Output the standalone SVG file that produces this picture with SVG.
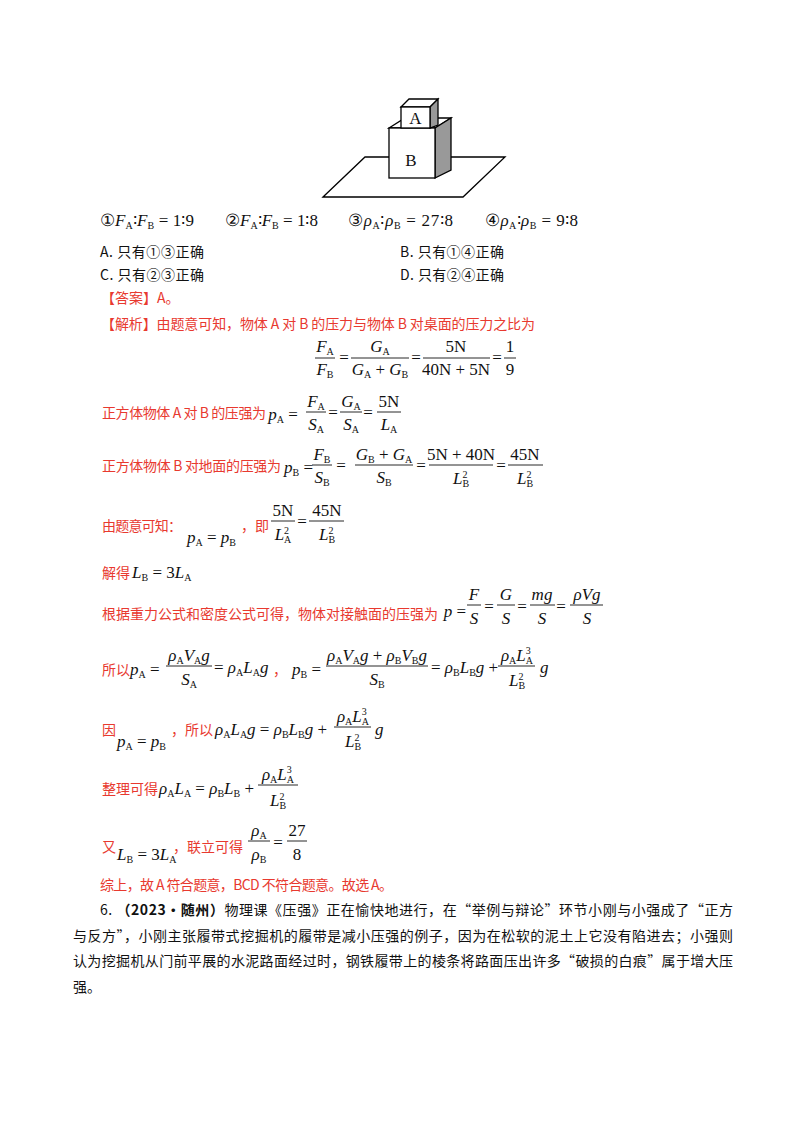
<svg xmlns="http://www.w3.org/2000/svg" width="800" height="1132" viewBox="0 0 800 1132">
<style>
.cn{font-family:"Noto Sans CJK SC","Noto Sans CJK JP",sans-serif;font-size:14px;fill:#111}
.r{fill:#e8392f}
.m{font-family:"Liberation Serif",serif;font-size:17px;fill:#111}
.i{font-style:italic}
.s{font-size:10px;font-style:normal}
.bar{stroke:#111;stroke-width:0.9}
.fig{fill:#fff;stroke:#000;stroke-width:1.3}
</style>
<rect width="800" height="1132" fill="#fff"/>
<g id="figure">
<polygon class="fig" points="323,197 365,157 505,157 463,197"/>
<polygon class="fig" points="389,128 405,118 451,118 435,128"/>
<polygon points="435,128 451,118 451,170 435,178" fill="#999" stroke="#000" stroke-width="1.3"/>
<rect class="fig" x="389" y="128" width="46" height="50"/>
<polygon class="fig" points="401,107 409,99 438,99 430,107"/>
<polygon points="430,107 438,99 438,125 430,128" fill="#999" stroke="#000" stroke-width="1.3"/>
<rect class="fig" x="401" y="107" width="29" height="21"/>
<text x="415.5" y="124" class="m" font-size="15" text-anchor="middle">A</text>
<text x="411" y="166" class="m" font-size="15" text-anchor="middle">B</text>
</g>
<g id="options">
<text x="100" y="226" class="m" textLength="94" lengthAdjust="spacing">①<tspan class="i">F</tspan><tspan class="s" dy="3">A</tspan><tspan dy="-3">∶</tspan><tspan class="i">F</tspan><tspan class="s" dy="3">B</tspan><tspan dy="-3"> = 1∶9</tspan></text>
<text x="225" y="226" class="m" textLength="93" lengthAdjust="spacing">②<tspan class="i">F</tspan><tspan class="s" dy="3">A</tspan><tspan dy="-3">∶</tspan><tspan class="i">F</tspan><tspan class="s" dy="3">B</tspan><tspan dy="-3"> = 1∶8</tspan></text>
<text x="348" y="226" class="m" textLength="105" lengthAdjust="spacing">③<tspan class="i">ρ</tspan><tspan class="s" dy="3">A</tspan><tspan dy="-3">∶</tspan><tspan class="i">ρ</tspan><tspan class="s" dy="3">B</tspan><tspan dy="-3"> = 27∶8</tspan></text>
<text x="485" y="226" class="m" textLength="93" lengthAdjust="spacing">④<tspan class="i">ρ</tspan><tspan class="s" dy="3">A</tspan><tspan dy="-3">∶</tspan><tspan class="i">ρ</tspan><tspan class="s" dy="3">B</tspan><tspan dy="-3"> = 9∶8</tspan></text>
<text x="100" y="257" class="cn" textLength="104" lengthAdjust="spacing">A.  只有①③正确</text>
<text x="400" y="257" class="cn" textLength="104" lengthAdjust="spacing">B.  只有①④正确</text>
<text x="100" y="280" class="cn" textLength="104" lengthAdjust="spacing">C.  只有②③正确</text>
<text x="400" y="280" class="cn" textLength="104" lengthAdjust="spacing">D.  只有②④正确</text>
</g>
<g id="solution">
<text x="101" y="303" class="cn r">【答案】A。</text>
<text x="101" y="329" class="cn r" textLength="434" lengthAdjust="spacing">【解析】由题意可知，物体 A 对 B 的压力与物体 B 对桌面的压力之比为</text>
<g class="m" text-anchor="middle">
<text x="325" y="352"><tspan class="i">F</tspan><tspan class="s" dy="3">A</tspan></text>
<text x="325" y="375"><tspan class="i">F</tspan><tspan class="s" dy="3">B</tspan></text>
<text x="344" y="363">=</text>
<text x="380" y="352"><tspan class="i">G</tspan><tspan class="s" dy="3">A</tspan></text>
<text x="380" y="375"><tspan class="i">G</tspan><tspan class="s" dy="3">A</tspan><tspan dy="-3"> + </tspan><tspan class="i">G</tspan><tspan class="s" dy="3">B</tspan></text>
<text x="416" y="363">=</text>
<text x="456" y="352">5N</text>
<text x="456" y="375">40N + 5N</text>
<text x="497" y="363">=</text>
<text x="510" y="352">1</text>
<text x="510" y="375">9</text>
</g>
<line class="bar" x1="315" y1="358" x2="335" y2="358"/>
<line class="bar" x1="351" y1="358" x2="409" y2="358"/>
<line class="bar" x1="423" y1="358" x2="490" y2="358"/>
<line class="bar" x1="504" y1="358" x2="516" y2="358"/>
<text x="102" y="418" class="cn r" textLength="164" lengthAdjust="spacing">正方体物体 A 对 B 的压强为</text>
<g class="m" text-anchor="middle">
<text x="283" y="420"><tspan class="i">p</tspan><tspan class="s" dy="3">A</tspan><tspan dy="-3"> =</tspan></text>
<text x="316" y="407"><tspan class="i">F</tspan><tspan class="s" dy="3">A</tspan></text>
<text x="316" y="430"><tspan class="i">S</tspan><tspan class="s" dy="3">A</tspan></text>
<text x="333" y="418">=</text>
<text x="351" y="407"><tspan class="i">G</tspan><tspan class="s" dy="3">A</tspan></text>
<text x="351" y="430"><tspan class="i">S</tspan><tspan class="s" dy="3">A</tspan></text>
<text x="368" y="418">=</text>
<text x="389" y="407">5N</text>
<text x="389" y="430"><tspan class="i">L</tspan><tspan class="s" dy="3">A</tspan></text>
</g>
<line class="bar" x1="306" y1="412" x2="326" y2="412"/>
<line class="bar" x1="340" y1="412" x2="362" y2="412"/>
<line class="bar" x1="377" y1="412" x2="401" y2="412"/>
<text x="102" y="471" class="cn r" textLength="179" lengthAdjust="spacing">正方体物体 B 对地面的压强为</text>
<g class="m" text-anchor="middle">
<text x="284" y="473" text-anchor="start"><tspan class="i">p</tspan><tspan class="s" dy="3">B</tspan><tspan dy="-3"> =</tspan></text>
<text x="322" y="460"><tspan class="i">F</tspan><tspan class="s" dy="3">B</tspan></text>
<text x="322" y="483"><tspan class="i">S</tspan><tspan class="s" dy="3">B</tspan></text>
<text x="341" y="471">=</text>
<text x="384" y="460"><tspan class="i">G</tspan><tspan class="s" dy="3">B</tspan><tspan dy="-3"> + </tspan><tspan class="i">G</tspan><tspan class="s" dy="3">A</tspan></text>
<text x="384" y="483"><tspan class="i">S</tspan><tspan class="s" dy="3">B</tspan></text>
<text x="421" y="471">=</text>
<text x="461" y="460">5N + 40N</text>
<text x="461" y="484"><tspan class="i">L</tspan><tspan class="s" dy="-6">2</tspan><tspan class="s" dx="-5" dy="9">B</tspan></text>
<text x="501" y="471">=</text>
<text x="525" y="460">45N</text>
<text x="525" y="484"><tspan class="i">L</tspan><tspan class="s" dy="-6">2</tspan><tspan class="s" dx="-5" dy="9">B</tspan></text>
</g>
<line class="bar" x1="312" y1="465" x2="332" y2="465"/>
<line class="bar" x1="355" y1="465" x2="413" y2="465"/>
<line class="bar" x1="429" y1="465" x2="493" y2="465"/>
<line class="bar" x1="508" y1="465" x2="543" y2="465"/>
<text x="102" y="531" class="cn r" textLength="80" lengthAdjust="spacing">由题意可知：</text>
<text x="187" y="543" class="m"><tspan class="i">p</tspan><tspan class="s" dy="3">A</tspan><tspan dy="-3"> = </tspan><tspan class="i">p</tspan><tspan class="s" dy="3">B</tspan></text>
<text x="241" y="531" class="cn r">，即</text>
<g class="m" text-anchor="middle">
<text x="283" y="516">5N</text>
<text x="283" y="540"><tspan class="i">L</tspan><tspan class="s" dy="-6">2</tspan><tspan class="s" dx="-5" dy="9">A</tspan></text>
<text x="302" y="527">=</text>
<text x="327" y="516">45N</text>
<text x="327" y="540"><tspan class="i">L</tspan><tspan class="s" dy="-6">2</tspan><tspan class="s" dx="-5" dy="9">B</tspan></text>
</g>
<line class="bar" x1="271" y1="521" x2="295" y2="521"/>
<line class="bar" x1="309" y1="521" x2="344" y2="521"/>
<text x="102" y="578" class="cn r">解得</text>
<text x="132" y="578" class="m"><tspan class="i">L</tspan><tspan class="s" dy="3">B</tspan><tspan dy="-3"> = 3</tspan><tspan class="i">L</tspan><tspan class="s" dy="3">A</tspan></text>
<text x="102" y="619" class="cn r" textLength="336" lengthAdjust="spacing">根据重力公式和密度公式可得，物体对接触面的压强为</text>
<g class="m" text-anchor="middle">
<text x="455" y="617"><tspan class="i">p</tspan> =</text>
<text x="474" y="600" class="i">F</text>
<text x="474" y="624" class="i">S</text>
<text x="489" y="612">=</text>
<text x="506" y="600" class="i">G</text>
<text x="506" y="624" class="i">S</text>
<text x="522" y="612">=</text>
<text x="542" y="600" class="i">mg</text>
<text x="542" y="624" class="i">S</text>
<text x="561" y="612">=</text>
<text x="587" y="600" class="i">ρVg</text>
<text x="587" y="624" class="i">S</text>
</g>
<line class="bar" x1="467" y1="605" x2="481" y2="605"/>
<line class="bar" x1="497" y1="605" x2="515" y2="605"/>
<line class="bar" x1="530" y1="605" x2="555" y2="605"/>
<line class="bar" x1="570" y1="605" x2="603" y2="605"/>
<text x="102" y="675" class="cn r">所以</text>
<g class="m">
<text x="130" y="675"><tspan class="i">p</tspan><tspan class="s" dy="3">A</tspan><tspan dy="-3"> =</tspan></text>
<text x="189" y="661" text-anchor="middle"><tspan class="i">ρ</tspan><tspan class="s" dy="3">A</tspan><tspan class="i" dy="-3">V</tspan><tspan class="s" dy="3">A</tspan><tspan class="i" dy="-3">g</tspan></text>
<text x="189" y="685" text-anchor="middle"><tspan class="i">S</tspan><tspan class="s" dy="3">A</tspan></text>
<text x="214" y="673">= <tspan class="i">ρ</tspan><tspan class="s" dy="3">A</tspan><tspan class="i" dy="-3">L</tspan><tspan class="s" dy="3">A</tspan><tspan class="i" dy="-3">g</tspan></text>
<text x="292" y="675"><tspan class="i">p</tspan><tspan class="s" dy="3">B</tspan><tspan dy="-3"> =</tspan></text>
<text x="377" y="661" text-anchor="middle"><tspan class="i">ρ</tspan><tspan class="s" dy="3">A</tspan><tspan class="i" dy="-3">V</tspan><tspan class="s" dy="3">A</tspan><tspan class="i" dy="-3">g</tspan> + <tspan class="i">ρ</tspan><tspan class="s" dy="3">B</tspan><tspan class="i" dy="-3">V</tspan><tspan class="s" dy="3">B</tspan><tspan class="i" dy="-3">g</tspan></text>
<text x="377" y="685" text-anchor="middle"><tspan class="i">S</tspan><tspan class="s" dy="3">B</tspan></text>
<text x="431" y="673">= <tspan class="i">ρ</tspan><tspan class="s" dy="3">B</tspan><tspan class="i" dy="-3">L</tspan><tspan class="s" dy="3">B</tspan><tspan class="i" dy="-3">g</tspan> +</text>
<text x="517" y="661" text-anchor="middle"><tspan class="i">ρ</tspan><tspan class="s" dy="3">A</tspan><tspan class="i" dy="-3">L</tspan><tspan class="s" dy="-7">3</tspan><tspan class="s" dx="-5" dy="10">A</tspan></text>
<text x="517" y="686" text-anchor="middle"><tspan class="i">L</tspan><tspan class="s" dy="-6">2</tspan><tspan class="s" dx="-5" dy="9">B</tspan></text>
<text x="540" y="673" class="i">g</text>
</g>
<text x="273" y="675" class="cn r">，</text>
<line class="bar" x1="166" y1="666" x2="212" y2="666"/>
<line class="bar" x1="326" y1="666" x2="428" y2="666"/>
<line class="bar" x1="498" y1="666" x2="535" y2="666"/>
<text x="102" y="735" class="cn r">因</text>
<text x="117" y="747" class="m"><tspan class="i">p</tspan><tspan class="s" dy="3">A</tspan><tspan dy="-3"> = </tspan><tspan class="i">p</tspan><tspan class="s" dy="3">B</tspan></text>
<text x="171" y="735" class="cn r">，所以</text>
<g class="m">
<text x="215" y="735"><tspan class="i">ρ</tspan><tspan class="s" dy="3">A</tspan><tspan class="i" dy="-3">L</tspan><tspan class="s" dy="3">A</tspan><tspan class="i" dy="-3">g</tspan> = <tspan class="i">ρ</tspan><tspan class="s" dy="3">B</tspan><tspan class="i" dy="-3">L</tspan><tspan class="s" dy="3">B</tspan><tspan class="i" dy="-3">g</tspan> +</text>
<text x="353" y="722" text-anchor="middle"><tspan class="i">ρ</tspan><tspan class="s" dy="3">A</tspan><tspan class="i" dy="-3">L</tspan><tspan class="s" dy="-7">3</tspan><tspan class="s" dx="-5" dy="10">A</tspan></text>
<text x="353" y="747" text-anchor="middle"><tspan class="i">L</tspan><tspan class="s" dy="-6">2</tspan><tspan class="s" dx="-5" dy="9">B</tspan></text>
<text x="375" y="735" class="i">g</text>
</g>
<line class="bar" x1="334" y1="727" x2="371" y2="727"/>
<text x="102" y="794" class="cn r">整理可得</text>
<g class="m">
<text x="159" y="794"><tspan class="i">ρ</tspan><tspan class="s" dy="3">A</tspan><tspan class="i" dy="-3">L</tspan><tspan class="s" dy="3">A</tspan><tspan dy="-3"> = </tspan><tspan class="i">ρ</tspan><tspan class="s" dy="3">B</tspan><tspan class="i" dy="-3">L</tspan><tspan class="s" dy="3">B</tspan><tspan dy="-3"> +</tspan></text>
<text x="278" y="780" text-anchor="middle"><tspan class="i">ρ</tspan><tspan class="s" dy="3">A</tspan><tspan class="i" dy="-3">L</tspan><tspan class="s" dy="-7">3</tspan><tspan class="s" dx="-5" dy="10">A</tspan></text>
<text x="278" y="806" text-anchor="middle"><tspan class="i">L</tspan><tspan class="s" dy="-6">2</tspan><tspan class="s" dx="-5" dy="9">B</tspan></text>
</g>
<line class="bar" x1="258" y1="785" x2="298" y2="785"/>
<text x="102" y="852" class="cn r">又</text>
<text x="117" y="860" class="m"><tspan class="i">L</tspan><tspan class="s" dy="3">B</tspan><tspan dy="-3"> = 3</tspan><tspan class="i">L</tspan><tspan class="s" dy="3">A</tspan></text>
<text x="173" y="852" class="cn r">，联立可得</text>
<g class="m" text-anchor="middle">
<text x="259" y="836"><tspan class="i">ρ</tspan><tspan class="s" dy="3">A</tspan></text>
<text x="259" y="860"><tspan class="i">ρ</tspan><tspan class="s" dy="3">B</tspan></text>
<text x="278" y="848">=</text>
<text x="297" y="836">27</text>
<text x="297" y="860">8</text>
</g>
<line class="bar" x1="248" y1="841" x2="270" y2="841"/>
<line class="bar" x1="287" y1="841" x2="307" y2="841"/>
<text x="100" y="890" class="cn r" textLength="293" lengthAdjust="spacing">综上，故 A 符合题意，BCD 不符合题意。故选 A。</text>
</g>
<g id="question6">
<text x="100" y="915" class="cn" textLength="633" lengthAdjust="spacing">6.  <tspan font-weight="bold">（2023•随州）</tspan>物理课《压强》正在愉快地进行，在“举例与辩论”环节小刚与小强成了“正方</text>
<text x="73" y="941" class="cn" textLength="660" lengthAdjust="spacing">与反方”，小刚主张履带式挖掘机的履带是减小压强的例子，因为在松软的泥土上它没有陷进去；小强则</text>
<text x="73" y="966" class="cn" textLength="660" lengthAdjust="spacing">认为挖掘机从门前平展的水泥路面经过时，钢铁履带上的棱条将路面压出许多“破损的白痕”属于增大压</text>
<text x="73" y="992" class="cn">强。</text>
</g>
</svg>
